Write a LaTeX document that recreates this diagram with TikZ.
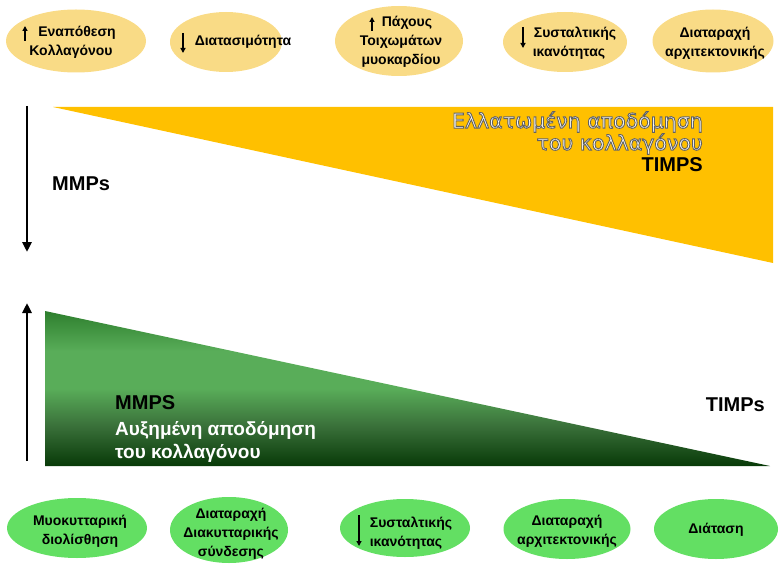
\documentclass[tikz,border=0pt]{standalone}
\usepackage{fontspec}
\setmainfont{Liberation Sans}
\newfontfamily\roundfont{DejaVu Sans}
\usetikzlibrary{shapes.geometric,arrows.meta,calc}
\definecolor{capsule}{HTML}{F9DB86}
\definecolor{leaf}{HTML}{63DF63}
\definecolor{amber}{HTML}{FFC000}
\definecolor{woodtop}{HTML}{2E7F2E}
\definecolor{woodmid}{HTML}{59AD59}
\definecolor{woodlow}{HTML}{083A08}
% vertical fade for the green wedge (25bp = bottom edge, 75bp = top edge)
\pgfdeclareverticalshading{woodfade}{100bp}{%
  color(0bp)=(woodlow); color(25bp)=(woodlow); color(38bp)=(black!35!woodmid);
  color(50bp)=(woodmid); color(62bp)=(woodmid); color(75bp)=(woodtop); color(100bp)=(woodtop)}
% white letters with a grey outline (fill + stroke rendering mode)
\newcommand\hollowtext[1]{{\color{white}\special{pdf:literal direct 2 Tr 0.38 0.38 0.38 RG 0.9 w}#1\special{pdf:literal direct 0 Tr}}}
\begin{document}
\begin{tikzpicture}[x=1pt,y=-1pt,
  topoval/.style={ellipse,fill=capsule,draw=none,inner sep=0pt},
  lowoval/.style={ellipse,fill=leaf,draw=none,inner sep=0pt},
  ovaltext/.style={font=\bfseries\fontsize{14}{19}\selectfont,align=center,inner sep=0pt},
  bigtext/.style={font=\bfseries\fontsize{20}{23}\selectfont,inner sep=0pt},
  minarrow/.style={line width=1.3pt,-{Triangle[length=5pt,width=5pt]}},
  axisarrow/.style={line width=2.6pt,-{Triangle[length=10pt,width=9pt]}}]
\useasboundingbox (0,0) rectangle (784,564);

% wedges
\fill[amber] (53,107) -- (773,107) -- (773,263) -- cycle;
\shade[shading=woodfade] (45,311) -- (45,466) -- (770,466) -- cycle;

% upper row
\node[topoval,minimum width=140pt,minimum height=63pt] (u1) at (76,41) {};
\node[topoval,minimum width=112pt,minimum height=60pt] (u2) at (226,42) {};
\node[topoval,minimum width=128pt,minimum height=70pt] (u3) at (399,41) {};
\node[topoval,minimum width=124pt,minimum height=60pt] (u4) at (565,42) {};
\node[topoval,minimum width=121pt,minimum height=63pt] (u5) at (713,41) {};

\node[ovaltext] (ut1) at (71,42.5) {\hspace*{12pt}Εναπόθεση\\Κολλαγόνου};
\node[ovaltext] (ut2) at (237,42) {\hspace*{12pt}Διατασιμότητα};
\node[ovaltext] (ut3) at (401,42) {\hspace*{12pt}Πάχους\\Τοιχωμάτων\\μυοκαρδίου};
\node[ovaltext] (ut4) at (569,43) {\hspace*{12pt}Συσταλτικής\\ικανότητας};
\node[ovaltext] (ut5) at (715,43) {Διαταραχή\\αρχιτεκτονικής};

\coordinate (a1s) at (25,41);  \coordinate (a1e) at (25,26);
\coordinate (a2s) at (183,33); \coordinate (a2e) at (183,53);
\coordinate (a3s) at (372,31); \coordinate (a3e) at (372,17);
\coordinate (a4s) at (523,27); \coordinate (a4e) at (523,48);
\draw[minarrow] (a1s) -- (a1e);
\draw[minarrow] (a2s) -- (a2e);
\draw[minarrow] (a3s) -- (a3e);
\draw[minarrow] (a4s) -- (a4e);

% lower row
\node[lowoval,minimum width=140pt,minimum height=60pt] (l1) at (77,528) {};
\node[lowoval,minimum width=118pt,minimum height=66pt] (l2) at (229,530) {};
\node[lowoval,minimum width=130pt,minimum height=58pt] (l3) at (405,528) {};
\node[lowoval,minimum width=127pt,minimum height=60pt] (l4) at (567,529) {};
\node[lowoval,minimum width=124pt,minimum height=60pt] (l5) at (716,529) {};

\node[ovaltext] (lt1) at (80,531) {Μυοκυτταρική\\διολίσθηση};
\node[ovaltext] (lt2) at (231,534) {Διαταραχή\\Διακυτταρικής\\σύνδεσης};
\node[ovaltext] (lt3) at (406,533) {\hspace*{10pt}Συσταλτικής\\ικανότητας};
\node[ovaltext] (lt4) at (567,531) {Διαταραχή\\αρχιτεκτονικής};
\node[ovaltext] (lt5) at (716,530) {Διάταση};

\coordinate (b3s) at (359,515); \coordinate (b3e) at (359,546);
\draw[minarrow] (b3s) -- (b3e);

% level arrows
\coordinate (dtop) at (27,106); \coordinate (dbot) at (27,252);
\draw[axisarrow] (dtop) -- (dbot);
\coordinate (ubot) at (27,461); \coordinate (utop) at (27,303);
\draw[axisarrow] (ubot) -- (utop);

% labels on and beside the wedges
\node[bigtext,anchor=west] (mmpa) at (52,184) {MMPs};
\node[bigtext,anchor=east] (timpa) at (765,405) {TIMPs};

\node[anchor=east,inner sep=0pt,font=\roundfont\fontsize{20.5}{22}\selectfont] (dec1) at (703,122) {\hollowtext{Ελλατωμένη αποδόμηση}};
\node[anchor=east,inner sep=0pt,font=\roundfont\fontsize{20.5}{22}\selectfont] (dec2) at (703,144) {\hollowtext{του κολλαγόνου}};
\node[anchor=east,bigtext,font=\bfseries\fontsize{20}{22}\selectfont] (timpb) at (703,165) {TIMPS};

\node[bigtext,anchor=west] (mmpb) at (115,403) {MMPS};
\node[anchor=west,inner sep=0pt,text=white,font=\bfseries\fontsize{19}{22}\selectfont] (inc1) at (115,430) {Αυξημένη αποδόμηση};
\node[anchor=west,inner sep=0pt,text=white,font=\bfseries\fontsize{19}{22}\selectfont] (inc2) at (115,453) {του κολλαγόνου};
\end{tikzpicture}
\end{document}
